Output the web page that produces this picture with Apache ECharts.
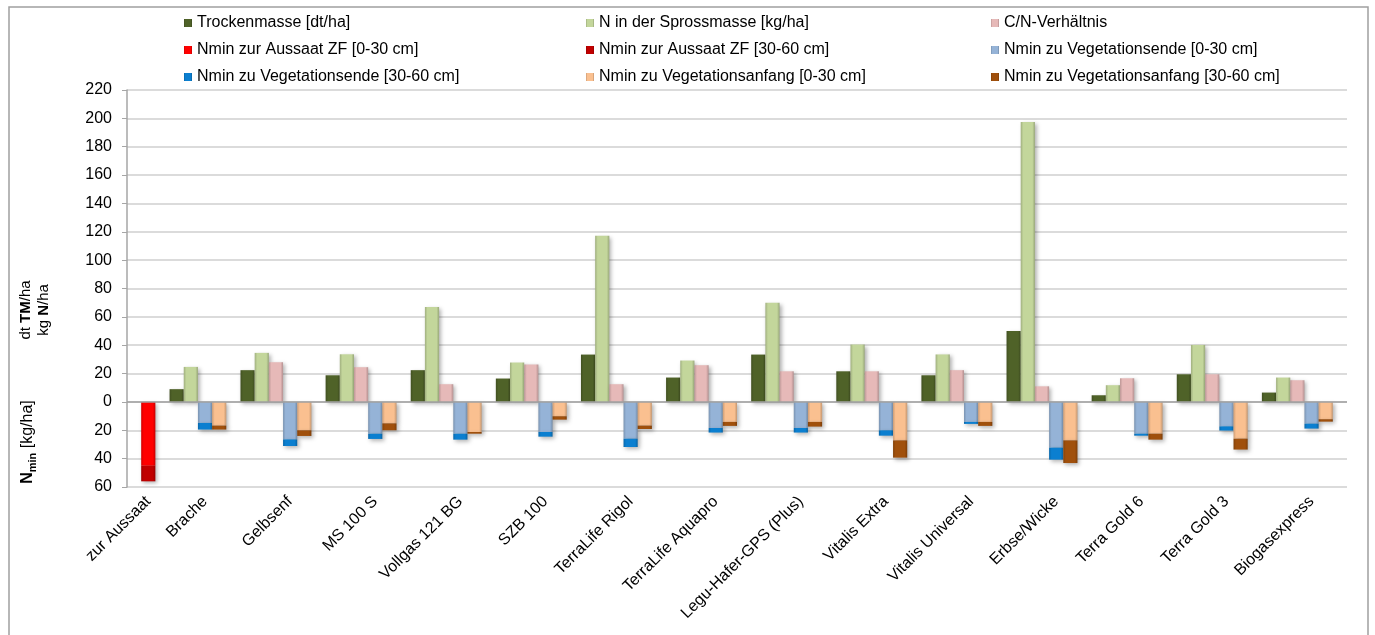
<!DOCTYPE html>
<html>
<head>
<meta charset="utf-8">
<script src="https://cdn.jsdelivr.net/npm/echarts@6/dist/echarts.min.js"></script>
<style>
  html, body { margin: 0; padding: 0; background: #fff; }
  #chart { width: 1375px; height: 635px; }
</style>
</head>
<body>
<div id="chart"></div>
<script>
// Kategorien (Varianten)
const categories = ['zur Aussaat', 'Brache', 'Gelbsenf', 'MS 100 S', 'Vollgas 121 BG', 'SZB 100',
  'TerraLife Rigol', 'TerraLife Aquapro', 'Legu-Hafer-GPS (Plus)', 'Vitalis Extra',
  'Vitalis Universal', 'Erbse/Wicke', 'Terra Gold 6', 'Terra Gold 3', 'Biogasexpress'];

// Aufwuchs (positive Achse)
const trockenmasse = [null, 9, 22.4, 18.8, 22.4, 16.5, 33.4, 17.2, 33.4, 21.6, 18.8, 50, 4.7, 19.5, 6.6];
const nSpross = [null, 24.7, 34.6, 33.6, 67, 27.8, 117.2, 29.2, 70, 40.5, 33.5, 197.4, 11.8, 40.2, 17.2];
const cnVerhaeltnis = [null, null, 28, 24.5, 12.5, 26.4, 12.5, 25.9, 21.6, 21.6, 22.4, 11, 16.7, 19.5, 15.3];

// Nmin-Werte in kg/ha (nach unten aufgetragen)
const nminAussaat030 = [45, null, null, null, null, null, null, null, null, null, null, null, null, null, null];
const nminAussaat3060 = [11, null, null, null, null, null, null, null, null, null, null, null, null, null, null];
const nminEnde030 = [null, 14.8, 26.4, 22.4, 22.4, 21.2, 25.9, 18.4, 18.4, 20, 14.1, 32.2, 22.4, 17.2, 15.3];
const nminEnde3060 = [null, 4.7, 4.7, 3.7, 4.2, 3.3, 5.9, 3.2, 3.2, 3.8, 1.4, 8.5, 1.4, 3, 3.5];
const nminAnfang030 = [null, 16.7, 20, 15.1, 21.2, 10.1, 16.7, 14.1, 14.1, 27.1, 14.1, 27.1, 22.4, 25.9, 12.2];
const nminAnfang3060 = [null, 2.8, 4, 4.9, 1.2, 2.4, 2.4, 2.8, 3.3, 12.2, 2.8, 16, 4.2, 7.7, 1.7];

// Achsenbeschriftung
const yTicks = { min: -60, max: 220, step: 20 };

// Serien-Definitionen: Platz (kind) innerhalb einer Variante, Vorzeichen und Farbe
const seriesDefs = [
  { name: 'Trockenmasse [dt/ha]', kind: 'tm', values: trockenmasse, sign: 1, color: '#4f6228' },
  { name: 'N in der Sprossmasse [kg/ha]', kind: 'n', values: nSpross, sign: 1, color: '#c3d69b' },
  { name: 'C/N-Verhältnis', kind: 'cn', values: cnVerhaeltnis, sign: 1, color: '#e6b9b8' },
  { name: 'Nmin zur Aussaat ZF [0-30 cm]', kind: 'aus', values: nminAussaat030, sign: -1, color: '#ff0000' },
  { name: 'Nmin zur Aussaat ZF [30-60 cm]', kind: 'aus', values: nminAussaat3060, sign: -1, color: '#c00000' },
  { name: 'Nmin zu Vegetationsende [0-30 cm]', kind: 'ende', values: nminEnde030, sign: -1, color: '#95b3d7' },
  { name: 'Nmin zu Vegetationsende [30-60 cm]', kind: 'ende', values: nminEnde3060, sign: -1, color: '#0b7fd0' },
  { name: 'Nmin zu Vegetationsanfang [0-30 cm]', kind: 'anf', values: nminAnfang030, sign: -1, color: '#fac090' },
  { name: 'Nmin zu Vegetationsanfang [30-60 cm]', kind: 'anf', values: nminAnfang3060, sign: -1, color: '#a0500c' }
];

const kindOrder = ['tm', 'n', 'cn', 'aus', 'ende', 'anf'];
const nminKinds = ['aus', 'ende', 'anf'];

// Jede Säule bekommt einen eigenen Platz auf der Kategorienachse;
// zwischen den Varianten bleibt ein leerer Platz.
const slots = [{ gap: true }];
categories.forEach((c, i) => {
  kindOrder.forEach(kind => {
    const has = seriesDefs.some(d => d.kind === kind && d.values[i] != null);
    if (has) slots.push({ cat: i, kind: kind });
  });
  slots.push({ gap: true });
});

// Variantenname steht am ersten Nmin-Platz der Gruppe
const slotLabels = slots.map(() => '');
categories.forEach((c, i) => {
  const idx = slots.findIndex(s => s.cat === i && nminKinds.includes(s.kind));
  if (idx >= 0) slotLabels[idx] = c;
});

function shade(hex, f) {
  const n = parseInt(hex.slice(1), 16);
  let r = (n >> 16) & 255, g = (n >> 8) & 255, b = n & 255;
  const adj = v => Math.max(0, Math.min(255, Math.round(f < 0 ? v * (1 + f) : v + (255 - v) * f)));
  return 'rgb(' + adj(r) + ',' + adj(g) + ',' + adj(b) + ')';
}

function barColor(base) {
  return new echarts.graphic.LinearGradient(0, 0, 1, 0, [
    { offset: 0, color: shade(base, -0.18) },
    { offset: 0.18, color: base },
    { offset: 0.82, color: base },
    { offset: 1, color: shade(base, -0.22) }
  ]);
}

const FONT = '"Liberation Sans", Arial, sans-serif';

const series = seriesDefs.map((d, si) => {
  const s = {
    name: d.name,
    type: 'bar',
    stack: 'alle',
    barCategoryGap: '0%',
    data: slots.map(sl => (!sl.gap && sl.kind === d.kind && d.values[sl.cat] != null) ? d.sign * d.values[sl.cat] : null),
    itemStyle: {
      color: barColor(d.color),
      shadowBlur: 4,
      shadowColor: 'rgba(0,0,0,0.3)',
      shadowOffsetX: 2,
      shadowOffsetY: 2
    }
  };
  if (si === 0) {
    s.markLine = {
      silent: true,
      symbol: 'none',
      label: { show: false },
      lineStyle: { color: '#a0a0a0', width: 1.5, type: 'solid' },
      data: [{ yAxis: 0 }]
    };
  }
  return s;
});

const legendCols = [
  [0, 3, 6],
  [1, 4, 7],
  [2, 5, 8]
];
const legendLeft = [179, 581, 986];

const legends = legendCols.map((col, ci) => ({
  orient: 'vertical',
  left: legendLeft[ci],
  top: 9,
  itemWidth: 8,
  itemHeight: 8,
  itemGap: 9,
  icon: 'rect',
  selectedMode: false,
  textStyle: { fontFamily: FONT, fontSize: 16, color: '#000', lineHeight: 18 },
  data: col.map(k => seriesDefs[k].name)
}));

const chart = echarts.init(document.getElementById('chart'), null, { renderer: 'canvas' });
chart.setOption({
  animation: false,
  backgroundColor: '#fff',
  textStyle: { fontFamily: FONT },
  legend: legends,
  grid: { left: 127, right: 28, top: 90, bottom: 148 },
  xAxis: {
    type: 'category',
    data: slots.map((s, i) => 'p' + i),
    boundaryGap: true,
    axisLine: { show: false },
    axisTick: { show: false },
    splitLine: { show: false },
    axisLabel: {
      interval: 0,
      rotate: 45,
      margin: 12,
      fontFamily: FONT,
      fontSize: 16,
      color: '#000',
      formatter: (v, idx) => slotLabels[idx]
    }
  },
  yAxis: {
    type: 'value',
    min: yTicks.min,
    max: yTicks.max,
    interval: yTicks.step,
    axisLine: { show: true, lineStyle: { color: '#a6a6a6', width: 1.5 } },
    axisTick: { show: true, length: 5, lineStyle: { color: '#a6a6a6' } },
    splitLine: { show: true, lineStyle: { color: '#cfcfcf', width: 1.5 } },
    axisLabel: {
      margin: 15,
      fontFamily: FONT,
      fontSize: 16,
      color: '#000',
      formatter: v => String(Math.abs(v))
    }
  },
  graphic: [
    {
      type: 'rect',
      silent: true,
      shape: { x: 9, y: 7, width: 1359, height: 640 },
      style: { fill: 'none', stroke: '#a0a0a0', lineWidth: 1.5 }
    },
    {
      type: 'text',
      x: 35,
      y: 310,
      rotation: Math.PI / 2,
      style: {
        text: '{n|dt }{b|TM}{n|/ha}\n{n|kg }{b|N}{n|/ha}',
        align: 'center',
        verticalAlign: 'middle',
        fill: '#000',
        rich: {
          n: { fontFamily: FONT, fontSize: 15, lineHeight: 18, fill: '#000' },
          b: { fontFamily: FONT, fontSize: 15, lineHeight: 18, fontWeight: 'bold', fill: '#000' }
        }
      }
    },
    {
      type: 'text',
      x: 28,
      y: 442,
      rotation: Math.PI / 2,
      style: {
        text: '{b|N}{s|min}{n| [kg/ha]}',
        align: 'center',
        verticalAlign: 'middle',
        fill: '#000',
        rich: {
          b: { fontFamily: FONT, fontSize: 16, fontWeight: 'bold', fill: '#000', lineHeight: 20 },
          s: { fontFamily: FONT, fontSize: 11, fontWeight: 'bold', fill: '#000', verticalAlign: 'bottom', lineHeight: 20, padding: [7, 0, 0, 0] },
          n: { fontFamily: FONT, fontSize: 16, fill: '#000', lineHeight: 20 }
        }
      }
    }
  ],
  series: series
});
</script>
</body>
</html>
